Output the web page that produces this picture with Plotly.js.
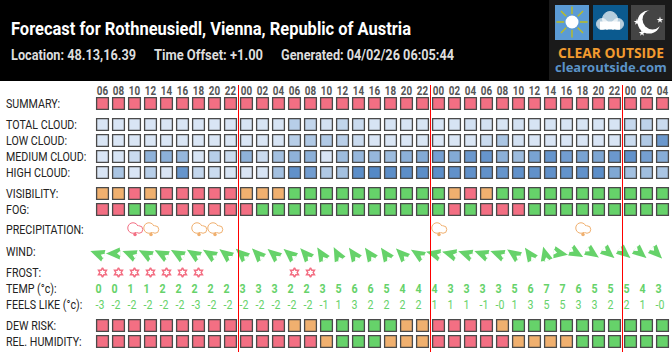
<!DOCTYPE html>
<html><head><meta charset="utf-8">
<script src="https://cdn.plot.ly/plotly-3.0.1.min.js"></script>
<style>html,body{margin:0;padding:0;background:#fff;overflow:hidden}#c{width:672px;height:352px}</style>
</head><body><div id="c"></div>
<script>
const hours = ['06','08','10','12','14','16','18','20','22','00','02','04','06','08','10','12','14','16','18','20','22','00','02','04','06','08','10','12','14','16','18','20','22','00','02','04'];
const summary = 'RRRRRRRRRRRRRRRRRRRRRRRRRRRRRRRRRRRR'.split('');
const totalCloud = [3,3,3,3,3,3,3,3,3,5,5,5,30,20,8,22,15,5,5,5,5,5,5,8,8,5,8,5,5,5,5,5,5,18,25,15];
const lowCloud = [2,2,2,2,2,2,2,2,2,2,2,5,30,35,35,28,15,3,2,2,2,2,2,2,15,40,8,3,3,3,3,3,3,15,35,85];
const mediumCloud = [3,5,15,60,62,55,5,30,15,60,15,45,60,62,3,50,55,55,50,62,68,78,68,85,88,62,50,75,88,80,75,72,85,92,78,65];
const highCloud = [3,40,3,30,3,88,20,15,5,3,5,45,92,80,35,45,95,100,95,95,95,95,92,92,92,88,92,92,92,90,92,95,70,45,48,40];
const visibility = 'OORORRRRROOOGGGGGGGGGGOROGGGGGGGGGGG'.split('');
const fog = 'RRGGRRRRRRGGGGGGGGGGGGRGRRRGGGGGGGGG'.split('');
const precipitation = [0,0,2,1,0,0,1,1,0,0,0,0,0,0,0,0,0,0,0,0,0,1,0,0,0,0,0,0,0,0,1,0,0,0,0,0];
const windHeading = [-70,-90,-68,-62,-62,-60,-58,-58,-52,-48,-45,-50,-50,-42,-32,-28,-35,-35,-35,-45,-58,-75,-75,-72,-70,-70,-55,-35,-15,100,120,125,130,130,130,135];
const frost = [1,1,1,1,1,1,1,0,0,0,0,0,1,1,0,0,0,0,0,0,0,0,0,0,0,0,0,0,0,0,0,0,0,0,0,0];
const temp = ['0','0','1','1','2','2','2','2','2','3','3','3','2','2','3','5','6','6','5','4','4','4','3','3','3','3','5','6','7','7','6','5','5','5','4','3'];
const feelsLike = ['-3','-2','-2','-2','-2','-2','-3','-2','-2','-2','-2','-2','-2','-2','-1','1','3','2','2','2','2','1','1','1','-1','-0','1','3','5','5','3','3','2','2','1','-0'];
const dewRisk = 'RRRRRRRRRRRROOGGGGGOORRRROGGGGGGGGGG'.split('');
const humidity = 'RRRRRRRRRRRRRROGGGOOORRRRROOOOGGGGGG'.split('');
const rowLabels = ['SUMMARY:','TOTAL CLOUD:','LOW CLOUD:','MEDIUM CLOUD:','HIGH CLOUD:','VISIBILITY:','FOG:','PRECIPITATION:','WIND:','FROST:','TEMP (°c):','FEELS LIKE (°c):','DEW RISK:','REL. HUMIDITY:'];
const rowY = [103.5,124.5,140.5,156.5,172.5,193.5,209.5,229.5,253.5,272.5,289.5,305.5,325.5,341.5];
const labelY = [103.5,124.5,140.5,156.5,172.5,193.5,209.5,229.5,251.5,272.5,288.5,304.5,325.5,341.5];

const RED='#f36f83', ORANGE='#f0b06f', GREEN='#66d26a', BORDER='#4a4a4a';
const rating={R:RED,O:ORANGE,G:GREEN};
const BASE='Roboto';
const W=672,H=352,X0=102.5,STEP=16;
const X=p=>(p-X0)/STEP;                 // page pixel → column units
const cols=hours.map((_,i)=>i);
const traces=[];
function ratingRow(vals,y){traces.push({type:'scatter',mode:'markers',x:cols,y:cols.map(()=>y),hoverinfo:'skip',
  marker:{symbol:'square',size:11.8,color:vals.map(v=>rating[v]),line:{color:BORDER,width:1.3}}});}
function cloudRow(vals,y){traces.push({type:'scatter',mode:'markers',x:cols,y:cols.map(()=>y),hoverinfo:'skip',
  marker:{symbol:'square',size:11.8,color:vals,cmin:0,cmax:100,colorscale:[[0,'#dde8f6'],[0.5,'#9dbcde'],[1,'#5589c6']],line:{color:BORDER,width:1.3}}});}
function mk(x,y,o){traces.push({type:'scatter',mode:'markers',x,y,hoverinfo:'skip',marker:o});}

ratingRow(summary,rowY[0]);
cloudRow(totalCloud,rowY[1]);cloudRow(lowCloud,rowY[2]);cloudRow(mediumCloud,rowY[3]);cloudRow(highCloud,rowY[4]);
ratingRow(visibility,rowY[5]);ratingRow(fog,rowY[6]);
ratingRow(dewRisk,rowY[12]);ratingRow(humidity,rowY[13]);

// precipitation clouds
const pc=cols.filter(i=>precipitation[i]>0), pcol=pc.map(i=>precipitation[i]===2?RED:ORANGE), py=rowY[7];
mk(pc.map(i=>i-1.5/STEP),pc.map(()=>py-1.5),{symbol:'circle',size:10.5,color:'#fff',line:{color:pcol,width:1}});
mk(pc.map(i=>i+4.5/STEP),pc.map(()=>py),{symbol:'circle',size:7.5,color:'#fff',line:{color:pcol,width:1}});
mk(pc.map(i=>i+1.9/STEP),pc.map(()=>py-0.5),{symbol:'circle',size:6.5,color:'#fff'});
mk(pc.map(i=>i+0.5/STEP),pc.map(()=>py+5),{symbol:'circle',size:3.5,color:pcol});

// wind arrows: the marker's tip lies on its point, so shift by half the length along the heading.
// Two slim arrows splayed about the tip widen the head; a small white triangle cuts the tail notch.
const rad=a=>a*Math.PI/180, LEN=14, SPLAY=6, NOTCH_FROM_CENTRE=6.5, WIND_DX=-5.5;
const ax=[],ay=[],aa=[],nx=[],ny=[],na=[];
cols.forEach(i=>{const a=windHeading[i],s=Math.sin(rad(a)),c=Math.cos(rad(a));
  [-SPLAY,SPLAY].forEach(d=>{ax.push(i+(WIND_DX+s*LEN/2)/STEP);ay.push(rowY[8]-c*LEN/2);aa.push(a+d);});
  nx.push(i+(WIND_DX-s*NOTCH_FROM_CENTRE)/STEP);ny.push(rowY[8]+c*NOTCH_FROM_CENTRE);na.push(a);
});
mk(ax,ay,{symbol:'arrow',size:15,color:GREEN,angle:aa,line:{width:0}});
mk(nx,ny,{symbol:'triangle-up',size:5,color:'#fff',angle:na,line:{width:0}});

// frost stars
const fr=cols.filter(i=>frost[i]);
mk(fr,fr.map(()=>rowY[9]),{symbol:'hexagram-open',size:7,color:RED,line:{color:RED,width:1.5}});

// temperature rows
traces.push({type:'scatter',mode:'text',x:cols.map(i=>i-7/STEP),y:cols.map(()=>rowY[10]),text:temp,textposition:'middle right',hoverinfo:'skip',
  textfont:{family:BASE,size:13,color:GREEN,weight:700}});
traces.push({type:'scatter',mode:'text',x:cols.map(i=>i-7/STEP),y:cols.map(()=>rowY[11]),text:feelsLike,textposition:'middle right',hoverinfo:'skip',
  textfont:{family:BASE,size:13,color:GREEN}});

// logo marks
const sx=572,sy=22;
mk([X(sx)],[sy],{symbol:'asterisk-open',size:26,line:{color:'#fff',width:1.4}});
mk([X(sx)],[sy],{symbol:'circle',size:16,color:'#5b9bd5'});
mk([X(sx)],[sy],{symbol:'circle',size:13,color:'#fff'});
mk([X(602),X(610),X(618)],[24,19,24],{symbol:'circle',size:[11,15,11],color:'#fff'});
mk([X(604),X(610),X(616)],[25.5,25.5,25.5],{symbol:'square',size:8,color:'#fff'});
mk([X(649)],[22],{symbol:'circle',size:23,color:'#fff'});
mk([X(652.5)],[19.5],{symbol:'circle',size:20,color:'#444444'});
mk([X(637),X(660),X(642)],[22,20,33],{symbol:'star',size:5,color:'#fff'});

const bands=[['#000',0,W,0,81],['#1a1a1a',549,W,0,80],['#5b9bd5',555,589,5,40],['#0b5a8f',593,628,5,40],['#444444',631,665,5,40]];
const shapes=bands.map(b=>({type:'rect',layer:'below',xref:'x',yref:'y',x0:X(b[1]),x1:X(b[2]),y0:b[3],y1:b[4],fillcolor:b[0],line:{width:0}}));
hours.forEach((h,i)=>{if(h==='00')shapes.push({type:'line',layer:'above',xref:'x',yref:'y',x0:i-0.5,x1:i-0.5,y0:85,y1:H,line:{color:'#ff0000',width:1}});});

const ann=(x,y,text,font,xanchor='left')=>({xref:'x',yref:'y',x:X(x),y,text,showarrow:false,xanchor,yanchor:'middle',align:xanchor,borderpad:0,font});
const TITLE='Forecast for Rothneusiedl, Vienna, Republic of Austria';
const LOC='Location: 48.13,16.39',OFS='Time Offset: +1.00',GEN='Generated: 04/02/26 06:05:44';
const annotations=[
 ann(10,28,TITLE,{family:BASE,size:18,color:'#fff',weight:700}),
 ann(10,54.5,LOC,{family:BASE,size:14,color:'#dddddd',weight:700}),
 ann(153,54.5,OFS,{family:BASE,size:14,color:'#dddddd',weight:700}),
 ann(280,54.5,GEN,{family:BASE,size:14,color:'#dddddd',weight:700}),
 ann(610.5,52,'CLEAR OUTSIDE',{family:'"Open Sans"',size:13.8,color:'#f29b2f',weight:700},'center'),
 ann(610.5,67,'clearoutside.com',{family:'"Open Sans"',size:13,color:'#5b93c8',weight:700},'center')
].concat(rowLabels.map((t,i)=>ann(5,labelY[i],t,{family:BASE,size:13,color:'#222222'})));

// target widths for header strings; everything else in Roboto is narrowed by one factor
const targetWidth={[TITLE]:400,[LOC]:125,[OFS]:109,[GEN]:173};
Plotly.newPlot('c',traces,{
 width:W,height:H,margin:{l:0,r:0,t:0,b:0},paper_bgcolor:'#fff',plot_bgcolor:'#fff',showlegend:false,
 xaxis:{range:[X(0),X(W)],tickmode:'array',tickvals:cols,ticktext:hours,side:'top',anchor:'free',position:1-97/H,
   showgrid:false,zeroline:false,showline:false,ticks:'',fixedrange:true,
   tickfont:{family:BASE,size:12,color:'#555555',weight:700}},
 yaxis:{range:[H,0],showticklabels:false,ticks:'',showgrid:false,zeroline:false,showline:false,fixedrange:true},
 shapes,annotations
},{staticPlot:true,displayModeBar:false}).then(()=>{
  document.querySelectorAll('#c svg text').forEach(t=>{
    const s=t.textContent; if(!s||/Open Sans/.test(t.style.fontFamily))return;
    const w=t.getComputedTextLength();
    t.setAttribute('lengthAdjust','spacingAndGlyphs');
    t.setAttribute('textLength',(targetWidth[s]||w*0.82).toFixed(1));
  });
});
</script></body></html>
